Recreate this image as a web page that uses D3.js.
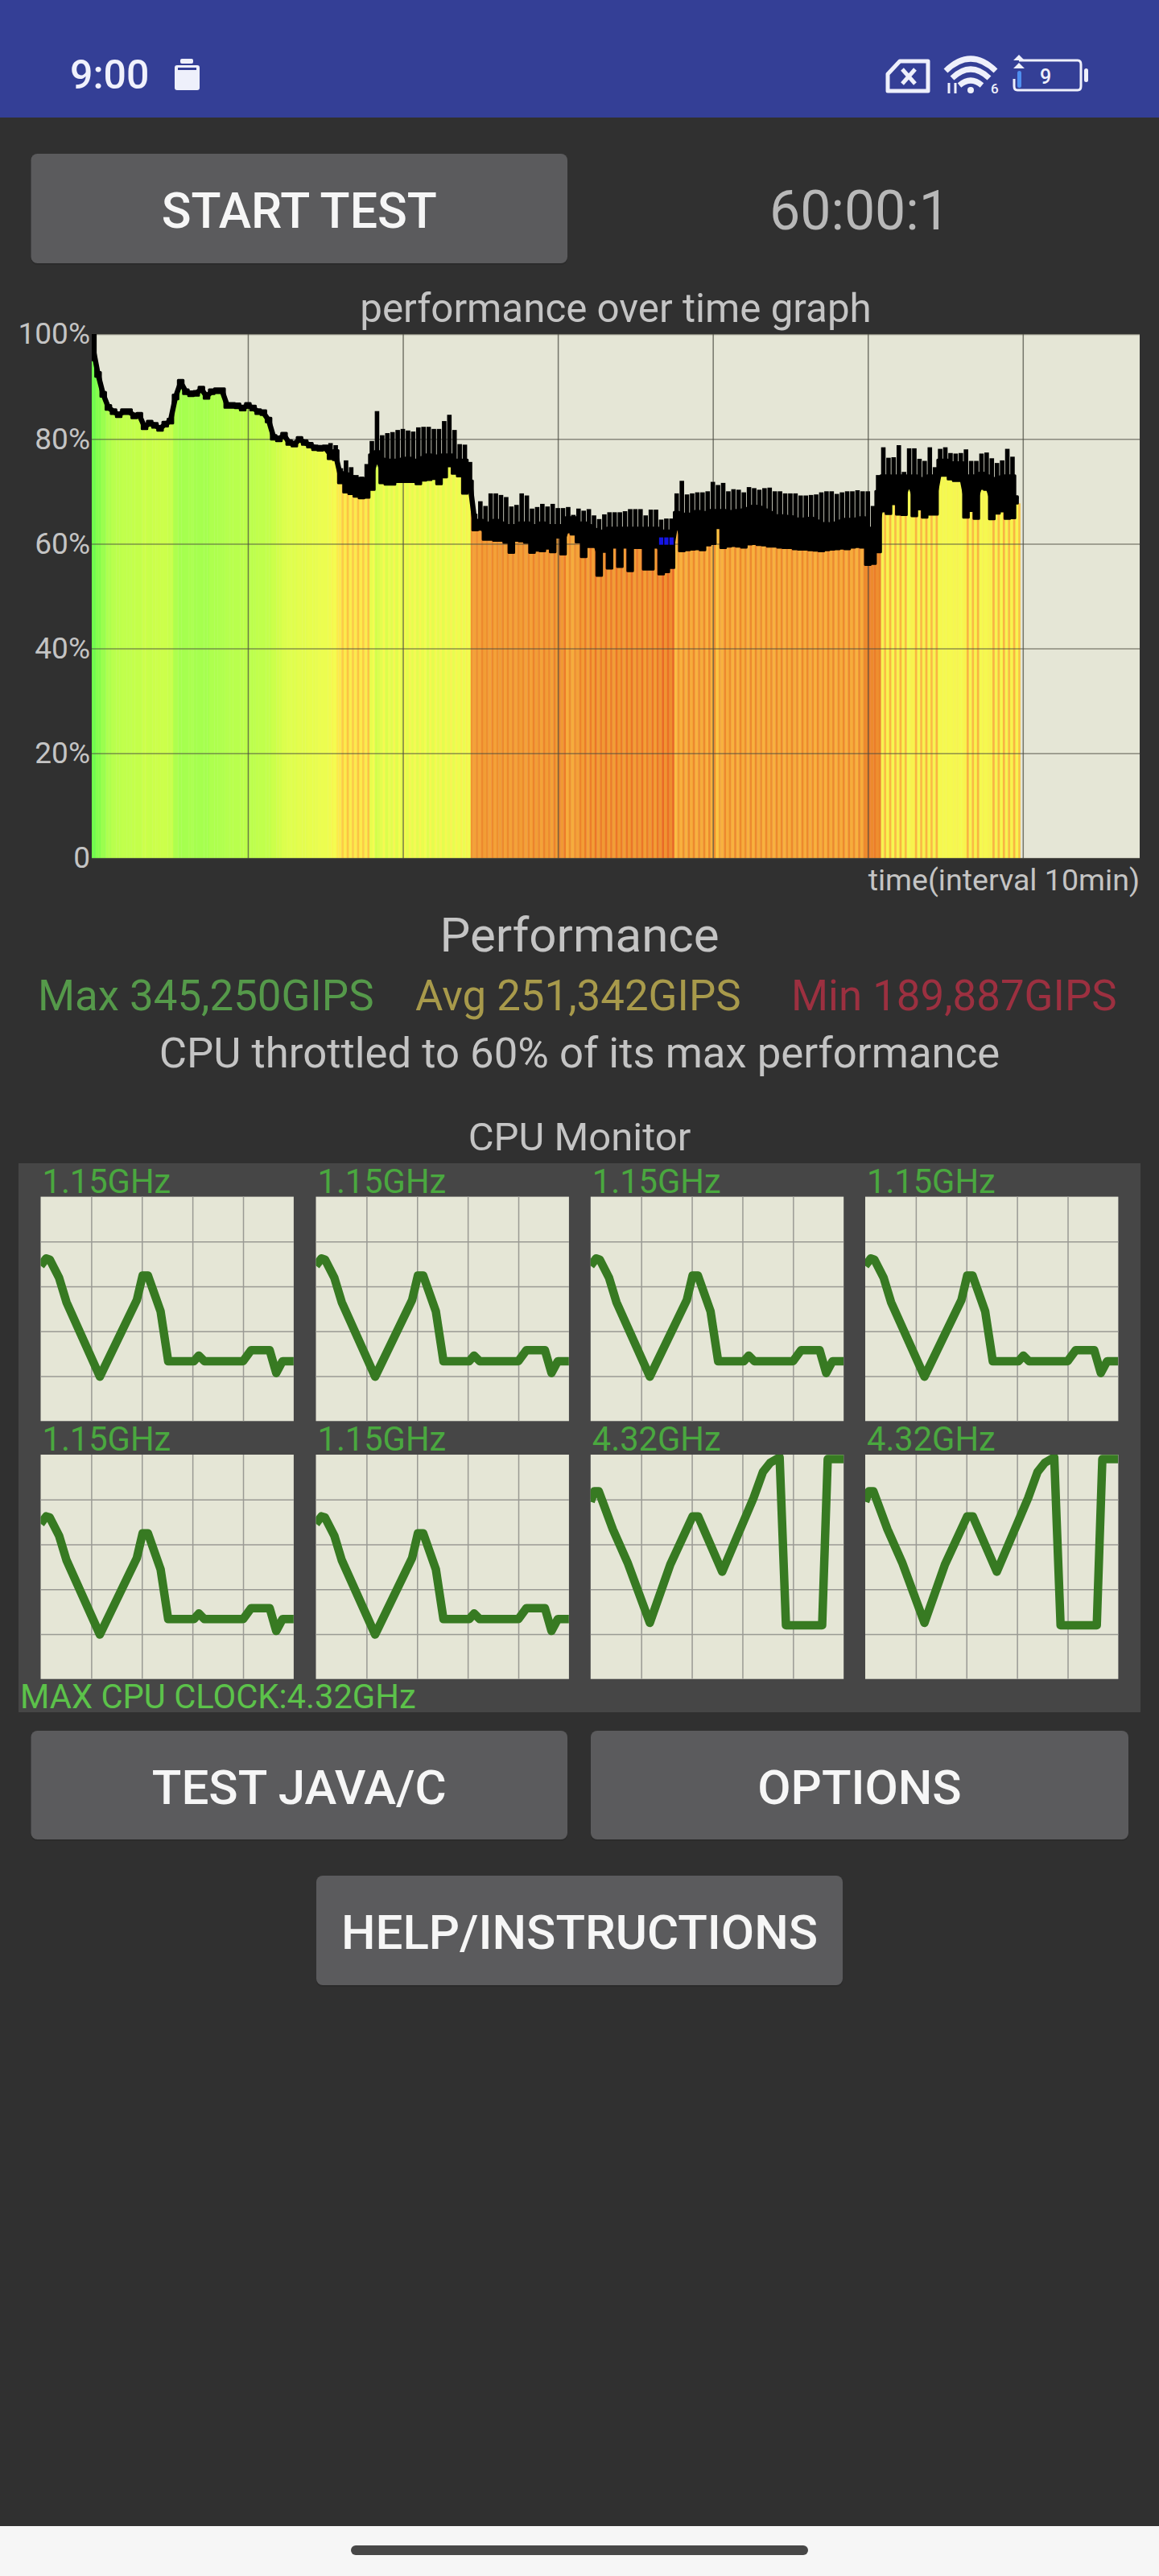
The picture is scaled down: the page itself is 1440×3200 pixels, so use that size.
<!DOCTYPE html>
<html>
<head>
<meta charset="utf-8">
<title>CPU Throttling Test</title>
<script src="https://cdnjs.cloudflare.com/ajax/libs/d3/7.8.5/d3.min.js"></script>
<style>
  html, body { margin: 0; padding: 0; background: #303030; }
  svg { display: block; font-family: Roboto, sans-serif; }
</style>
</head>
<body>
<svg id="screen" width="1440" height="3200"></svg>
<script>
// top of the spikes per sample, one sample = 20 s
const perfTop = [
  100,92.7,88.9,86.4,85.6,85,85.6,85.6,84.8,84.9,
  82.7,83.4,83,82.4,83.2,83.8,88.4,91.2,89.4,89,
  89.1,89.9,88.5,89.4,89.6,89.6,86.8,86.8,86.7,86.3,
  86.8,86.3,85.6,85.4,84,80.7,80.4,81.1,79.7,79.4,
  80.3,79.7,79.2,78.7,78.6,78.7,79.2,78.8,74.4,75.9,
  74.6,73.1,72.8,75.2,79.6,85.3,80.7,81.1,81.3,81.7,
  81.9,81.6,81.4,82.2,82.3,82.3,81.9,81.9,83.4,84.6,
  81.7,79,78.9,75.6,65.7,68.1,67.2,69.6,69.6,69.3,
  68.9,67.1,67.4,69.6,69.2,66.7,67,67.6,67.1,67.6,
  66.8,66.8,67,65.5,66.7,66.3,66.6,65.4,64.7,65.6,
  66,66,66,66.2,66.6,66.6,66.6,65.4,66.5,66.5,
  64.6,64.8,64.8,69.6,72,69.4,69.6,69.8,69.8,70,
  71.8,71.2,71.6,70,70.4,70.3,69.8,70.8,70.6,70.3,
  70.6,70.7,70,70,69.6,69.6,69.6,69.2,69.2,69.3,
  69.4,69.8,70,70,69.5,69.8,70,70,70.2,70,
  70,67.2,73.1,78.4,76.4,76.5,78.8,73.7,78.2,78.2,
  76.2,75.8,78.4,74.6,78.1,78.4,77.3,77.2,77.3,78,
  75.8,75.8,77.2,77.4,76.3,75.4,75.9,78.1,76.6,69
];

// where the solid band starts under the spikes
const perfBody = [
  100,92.7,88.9,86.4,85.6,85,85.6,85.6,84.8,84.9,
  82.7,83.4,83,82.4,83.2,83.8,88.4,91.2,89.4,89,
  89.1,89.9,88.5,89.4,89.6,89.6,86.8,86.8,86.7,86.3,
  86.8,86.3,85.6,85.4,84,80.7,80.4,81.1,79.7,79.4,
  80.3,79.7,79.2,78.7,78.6,78.7,77.7,77.8,73.6,73.4,
  72.9,72.5,72.2,72.5,77,77.6,76.2,76,76,76,
  76.2,76.4,76,76,76.5,77,76.8,76.8,77,77,
  76,76,76,72,64.5,64.5,63.6,64,64.5,64,
  63.5,63.5,63.5,64,64,63.5,63.5,64,63.5,63.5,
  63.5,63.5,65,65,64,64,63.5,62.8,62,62.5,
  63,63,63,63,63,63,63,62,63,63,
  62.5,62.5,62.5,66,63.9,65.7,65.7,66.2,66,66,
  66.4,66.4,66.4,66.2,66.2,66.4,66.5,66.8,67.2,67,
  66.5,66,65.4,65.4,65.3,65.2,64.8,64.4,64.8,64.9,
  64.4,63.9,63.9,63.6,64,64.4,64.7,64.7,64.8,65,
  63,62,70,73,73,72.7,73,73,72.5,73,
  72.5,72,73,72.8,76,76,75.5,75.5,75.5,72.5,
  73,73,73.5,73,72.5,72.5,72.8,73,73,69
];

// bottom of the black band, the coloured bars stop here
const perfLow = [
  95,91.9,88.1,85.6,84.8,84.2,84.8,84.8,84,84.1,
  81.9,82.6,82.2,81.6,82.4,83,87.6,90.4,88.6,88.2,
  88.3,89.1,87.7,88.6,88.8,88.8,86,86,85.9,85.5,
  86,85.5,84.8,84.6,83.2,79.9,79.6,80.3,78.9,78.6,
  79.5,78.9,78.4,77.9,77.8,77.9,76.2,76,71.6,69.8,
  69.5,69,68.7,68.8,70.3,75.9,71.6,71.3,71.3,71.8,
  71.8,71.8,71.8,71.4,72.1,72.2,72.4,71.4,72.7,74.8,
  73.4,72.9,69.6,70.8,62.6,62.7,60.8,60.8,60.6,60.6,
  60.2,58.3,60.6,60.5,60.2,58.3,58.7,58.6,59.1,58.4,
  61.2,58,62.2,61.8,60.3,57.5,59.4,59.4,53.9,58.5,
  55.3,59.3,55.6,59.3,54.8,59.2,59.2,55.1,55.1,59.3,
  54.2,54.6,55.4,64,58.6,58.8,58.9,59,58.8,59.7,
  60,63,59.2,59.5,59.6,59.5,59.3,59.9,60,59.8,
  59.7,59.5,59.5,59.3,59.2,59.2,59,58.9,58.9,58.8,
  58.7,58.6,58.8,58.9,59,59.1,59,59.3,59.4,59.3,
  56,56.2,58.4,66.2,65.7,67.6,65.6,65.5,71.3,65.3,
  66.6,65,65.6,65.6,73,73,72.3,72,72,65,
  66.3,64.8,70.5,70.3,64.7,65.8,66.2,64.8,64.9,67.7
];

// colour of each sample: wide stripe and thin stripe, 0 green .. 6 deep orange
const heatWide = [
  0,.4,.8,1.2,1.5,1.6,1.7,1.7,1.8,1.8,
  2,1.9,2,2,2,1.9,1.2,1,1,1.1,
  1,1,1,1.2,1.2,1.3,1.4,1.5,1.5,1.6,
  1.6,1.6,1.7,1.7,1.8,2,2.2,2.4,2.5,2.5,
  2.6,2.6,2.7,2.7,2.8,2.8,2.9,3,3.7,3.7,
  3.6,3.7,3.7,3.6,2.7,2.2,2.6,2.4,2.6,2.5,
  2.6,2.6,2.7,2.6,2.7,2.5,2.6,2.7,2.6,2.7,
  2.7,2.8,2.8,2.9,5,5,5.1,5,5,5.1,
  5,5,5,5.1,5,5,5.1,5,5.1,5,
  5.1,5.2,4.8,4.8,5,5.1,5,5.1,5.1,5.2,
  5.1,5.1,5.2,5.1,5.2,5.1,5.2,5.1,5.2,5.1,
  5.3,5.3,5.4,4.5,4.7,4.7,4.8,4.7,4.8,4.7,
  4.7,4.4,4.7,4.8,4.7,4.7,4.8,4.7,4.7,4.8,
  4.7,4.8,4.7,4.8,4.7,4.8,4.8,4.7,4.8,4.8,
  4.7,4.8,4.7,4.8,4.7,4.8,4.7,4.8,4.7,4.8,
  5.5,5.5,5.4,3.4,3.3,3.2,3.4,3.3,3,3.4,
  3.2,3.4,3.3,3.3,3.1,3.1,3.1,3.2,3.1,3.4,
  3.3,3.4,3.1,3.1,3.4,3.3,3.2,3.3,3.4,3.3
];

const heatThin = [
  0,.4,.8,1.2,1.5,1.6,1.7,1.7,1.8,1.8,
  2,1.9,2,2,2,1.9,1.2,1,1,1.1,
  1,1,1,1.2,1.2,1.3,1.4,1.5,1.5,1.6,
  1.6,1.6,1.7,1.7,1.8,2,2.2,2.4,2.5,2.5,
  2.6,2.6,2.7,2.7,2.8,2.8,3.2,3.6,4.3,4.4,
  4.3,4.4,4.3,4.4,3,2.4,3.1,2.8,3.2,3,
  3.1,3.2,3.1,3.2,3,3.2,3.1,3.2,3.1,3.3,
  3.2,3.3,3.3,5.3,5.4,5.5,5.4,5.5,5.4,5.5,
  5.5,5.5,5.4,5.5,5.5,5.6,5.5,5.6,5.5,5.6,
  5.6,5.7,5.4,5.4,5.6,5.7,5.7,5.8,5.7,5.8,
  5.7,5.8,5.7,5.8,5.8,5.7,5.8,5.7,5.8,5.8,
  6,5.9,6,5.2,5.4,5.5,5.5,5.4,5.5,5.5,
  5.4,5,5.5,5.4,5.5,5.5,5.4,5.5,5.5,5.4,
  5.5,5.4,5.5,5.5,5.4,5.5,5.4,5.5,5.5,5.4,
  5.5,5.4,5.5,5.5,5.4,5.5,5.5,5.4,5.5,5.5,
  5.7,5.7,5.6,4.5,4.6,4.5,4.6,4.5,3.4,4.6,
  4.5,4.6,4.5,4.6,3.2,3.2,3.2,3.3,3.2,4.6,
  4.5,4.6,3.3,3.3,4.6,4.5,4.6,4.5,4.6,4.4
];

// the few samples where the app marked the lowest reading in blue
const minMarkSamples = [110, 111, 112];
const minMarkRange = [59.8, 61.2];

const perfTicks = [0, 20, 40, 60, 80, 100];
const timeTicks = [10, 20, 30, 40, 50, 60];

const coreTimes = [0,2.2,3.6,7.3,10.2,23.4,38,40.3,42.4,47.4,50.4,60.6,62.5,64.7,80,83.2,90.5,93.1,95.6,100];
const littleCoreLoad = [69.2,72.5,72,63.8,53,19.8,53.9,64.9,64.9,48.9,26.7,26.7,29.2,26.7,26.7,31.6,31.6,21.4,26.7,26.7];

const bigCoreTimes = [0,1.5,3.2,8.8,14.6,23.4,31.5,40.3,42.5,52,64.4,68.1,71,74.7,77.2,91.5,93.7,100];
const bigCoreLoad = [79,83.7,83.7,66.7,51.9,25,51,72.5,72.5,47.8,80.7,92.3,96.4,98.8,23.9,23.9,98,98];

const coreClocks = ['1.15GHz','1.15GHz','1.15GHz','1.15GHz','1.15GHz','1.15GHz','4.32GHz','4.32GHz'];
const coreGridTicks = [20, 40, 60, 80];

const svg = d3.select('#screen');
const GREY = '#c4c4c4';
const PLOT_BG = '#e5e6d6';

function label(text, x, y, size, fill, anchor, weight) {
  return svg.append('text').attr('x', x).attr('y', y)
    .attr('font-size', size).attr('fill', fill)
    .attr('text-anchor', anchor || 'middle')
    .attr('font-weight', weight || 400)
    .text(text);
}

function button(text, x, y, w, h, size) {
  svg.append('rect').attr('x', x).attr('y', y + 2).attr('width', w).attr('height', h)
    .attr('rx', 8).attr('fill', '#262626').attr('opacity', .5);
  svg.append('rect').attr('x', x).attr('y', y).attr('width', w).attr('height', h)
    .attr('rx', 8).attr('fill', '#5b5b5d');
  label(text, x + w / 2, y + h / 2 + size * .355 + 2, size, '#f6f6f6', 'middle', 500);
}

// page and status bar
svg.append('rect').attr('width', 1440).attr('height', 3200).attr('fill', '#303030');
svg.append('rect').attr('width', 1440).attr('height', 146).attr('fill', '#343f96');
label('9:00', 87, 110, 50, '#f0f1fc', 'start', 500);

const icons = svg.append('g').attr('fill', '#eef0fb').attr('stroke', '#eef0fb');
// battery saver
icons.append('rect').attr('x', 217).attr('y', 81).attr('width', 31).attr('height', 31).attr('rx', 3).attr('stroke', 'none');
icons.append('rect').attr('x', 224).attr('y', 73).attr('width', 16).attr('height', 6).attr('rx', 2).attr('stroke', 'none');
icons.append('rect').attr('x', 221).attr('y', 84).attr('width', 23).attr('height', 3).attr('fill', '#343f96').attr('stroke', 'none');
// sim card with a cross
icons.append('path').attr('d', 'M1103 92 L1118 76 H1153 V113 H1103 Z M1121 86 L1137 104 M1137 86 L1121 104')
  .attr('fill', 'none').attr('stroke-width', 5).attr('stroke-linejoin', 'round');
// wifi
icons.append('path').attr('d', 'M1175 88 Q1206 58 1237 88 M1183 97 Q1206 75 1229 97 M1192 106 Q1206 94 1220 106')
  .attr('fill', 'none').attr('stroke-width', 7);
icons.append('circle').attr('cx', 1206).attr('cy', 112).attr('r', 4).attr('stroke', 'none');
icons.append('path').attr('d', 'M1179 103 V116 M1187 103 V116').attr('stroke-width', 3);
svg.append('text').attr('x', 1231).attr('y', 116).attr('font-size', 17).attr('fill', '#eef0fb').attr('font-weight', 500).text('6');
// battery
icons.append('path').attr('d', 'M1266 75 H1339 Q1343 75 1343 80 V107 Q1343 112 1339 112 H1264 Q1260 112 1260 107 V98')
  .attr('fill', 'none').attr('stroke-width', 3);
icons.append('rect').attr('x', 1347).attr('y', 85).attr('width', 5).attr('height', 17).attr('rx', 2.5).attr('stroke', 'none');
icons.append('path').attr('d', 'M1266 78 L1259 85 H1273 Z M1266 68 L1259 75 H1273 Z').attr('stroke', 'none');
svg.append('rect').attr('x', 1264).attr('y', 88).attr('width', 5).attr('height', 21).attr('rx', 2.5).attr('fill', '#4f8ff0');
label('9', 1299, 104, 25, '#eef0fb', 'middle', 500);

button('START TEST', 38.5, 191, 666.5, 136, 60.8);
label('60:00:1', 1068, 285, 68, '#b8b8b8');

// performance graph
label('performance over time graph', 765, 400, 49.3, GREY);

const plot = { left: 114, right: 1416, top: 415, bottom: 1066 };
const x = d3.scaleLinear().domain([0, 67.54]).range([115.4, plot.right]);
const y = d3.scaleLinear().domain([0, 100]).range([plot.bottom, plot.top]);

const samples = perfTop.map((top, i) => ({
  t: i / 3, top, body: perfBody[i], low: perfLow[i], wide: heatWide[i], thin: heatThin[i]
}));
const step = x(1 / 3) - x(0);

const heatColor = d3.scaleLinear()
  .domain([0, 1, 2, 3, 4, 4.6, 5.5, 6])
  .range(['#6ffb4a', '#a6ff4f', '#ccff4a', '#f4fc50', '#ffe24a', '#f9b640', '#ed8a2d', '#ea6a24']);

svg.append('clipPath').attr('id', 'plot-clip').append('rect')
  .attr('x', plot.left).attr('y', plot.top)
  .attr('width', plot.right - plot.left).attr('height', plot.bottom - plot.top);

svg.append('rect')
  .attr('x', plot.left).attr('y', plot.top)
  .attr('width', plot.right - plot.left).attr('height', plot.bottom - plot.top)
  .attr('fill', PLOT_BG);

const marks = svg.append('g').attr('clip-path', 'url(#plot-clip)');

marks.append('g').selectAll('rect').data(samples).join('rect')
  .attr('x', d => x(d.t) - step / 2)
  .attr('y', d => y(d.low))
  .attr('width', step * .62 + .3)
  .attr('height', d => y(0) - y(d.low))
  .attr('fill', d => heatColor(d.wide));

marks.append('g').selectAll('rect').data(samples).join('rect')
  .attr('x', d => x(d.t) - step / 2 + step * .62)
  .attr('y', d => y(d.low))
  .attr('width', step * .38 + .3)
  .attr('height', d => y(0) - y(d.low))
  .attr('fill', d => heatColor(d.thin));

// grid lines come from the axes, labels on the y axis only
const gridX = svg.append('g').attr('transform', `translate(0,${plot.bottom})`)
  .call(d3.axisBottom(x).tickValues(timeTicks).tickSize(-(plot.bottom - plot.top)).tickFormat(''));
gridX.select('.domain').remove();
gridX.selectAll('line').attr('stroke', '#4a4a40').attr('stroke-opacity', .72).attr('stroke-width', 1.5);

const gridY = svg.append('g').attr('transform', `translate(${plot.left},0)`)
  .call(d3.axisLeft(y).tickValues(perfTicks).tickSize(-(plot.right - plot.left)).tickPadding(2)
    .tickFormat(d => d === 0 ? '0' : d + '%'));
gridY.select('.domain').remove();
gridY.selectAll('line').attr('stroke', '#4a4a40').attr('stroke-opacity', .6).attr('stroke-width', 1.5);
gridY.selectAll('text').attr('font-family', 'Roboto, sans-serif').attr('font-size', 37).attr('fill', GREY);

const band = svg.append('g').attr('clip-path', 'url(#plot-clip)');

band.append('path').datum(samples)
  .attr('d', d3.area().x(d => x(d.t)).y0(d => y(d.low)).y1(d => y(d.body)).curve(d3.curveStep))
  .attr('fill', '#000').attr('stroke', '#000').attr('stroke-width', 3).attr('stroke-linejoin', 'round');

// a thick line through the band keeps the steep parts as heavy as the flat ones
band.append('path').datum(samples)
  .attr('d', d3.line().x(d => x(d.t)).y(d => y((d.body + d.low) / 2)))
  .attr('fill', 'none').attr('stroke', '#000').attr('stroke-width', 6.5).attr('stroke-linejoin', 'round');

band.append('g').selectAll('rect').data(samples.filter(d => d.top > d.body)).join('rect')
  .attr('x', d => x(d.t) - 2.8)
  .attr('y', d => y(d.top))
  .attr('width', 5.6)
  .attr('height', d => y(d.body) - y(d.top))
  .attr('fill', '#000');

band.append('g').selectAll('rect').data(minMarkSamples).join('rect')
  .attr('x', i => x(samples[i].t) - 2.6)
  .attr('y', y(minMarkRange[1]))
  .attr('width', 5.2)
  .attr('height', y(minMarkRange[0]) - y(minMarkRange[1]))
  .attr('fill', '#1414e6');

// texts under the graph
label('time(interval 10min)', 1416, 1106, 37.6, GREY, 'end');
label('Performance', 720, 1182, 60, GREY);
label('Max 345,250GIPS', 47, 1255, 52.8, '#55994a', 'start');
label('Avg 251,342GIPS', 516, 1255, 52.8, '#a89a4b', 'start');
label('Min 189,887GIPS', 983, 1255, 52.8, '#9c3040', 'start');
label('CPU throttled to 60% of its max performance', 720, 1326, 52.7, GREY);
label('CPU Monitor', 720, 1429, 49, GREY);

// cpu monitor panel
svg.append('rect').attr('x', 23).attr('y', 1445).attr('width', 1394).attr('height', 682).attr('fill', '#464646');

const coreCols = [50.5, 392.5, 733.8, 1075];
const coreRows = [1486.6, 1807];
const coreW = 314.4;
const coreH = 278.7;

coreClocks.forEach((clock, i) => {
  const left = coreCols[i % 4];
  const top = coreRows[Math.floor(i / 4)];
  const cx = d3.scaleLinear().domain([0, 100]).range([left, left + coreW]);
  const cy = d3.scaleLinear().domain([0, 100]).range([top + coreH, top]);
  const times = i < 6 ? coreTimes : bigCoreTimes;
  const load = i < 6 ? littleCoreLoad : bigCoreLoad;
  const clipId = 'core-clip-' + i;

  label(clock, left + 2, top - 5, 41.6, '#4aa83f', 'start');

  svg.append('rect').attr('x', left).attr('y', top).attr('width', coreW).attr('height', coreH).attr('fill', PLOT_BG);
  svg.append('clipPath').attr('id', clipId).append('rect')
    .attr('x', left).attr('y', top).attr('width', coreW).attr('height', coreH);

  const gx = svg.append('g').attr('transform', `translate(0,${top + coreH})`)
    .call(d3.axisBottom(cx).tickValues(coreGridTicks).tickSize(-coreH).tickFormat(''));
  const gy = svg.append('g').attr('transform', `translate(${left},0)`)
    .call(d3.axisLeft(cy).tickValues(coreGridTicks).tickSize(-coreW).tickFormat(''));
  [gx, gy].forEach(g => {
    g.select('.domain').remove();
    g.selectAll('line').attr('stroke', '#9a9a94').attr('stroke-width', 1.5);
  });

  svg.append('path').datum(load)
    .attr('clip-path', `url(#${clipId})`)
    .attr('d', d3.line().x((d, j) => cx(times[j])).y(d => cy(d)))
    .attr('fill', 'none').attr('stroke', '#377a22').attr('stroke-width', 10.5)
    .attr('stroke-linejoin', 'round');
});

label('MAX CPU CLOCK:4.32GHz', 25, 2122, 41.7, '#5cc24a', 'start');

button('TEST JAVA/C', 38.5, 2150, 666.5, 135, 60);
button('OPTIONS', 734, 2150, 668, 135, 60);
button('HELP/INSTRUCTIONS', 393, 2330, 654, 136, 60);

// navigation bar
svg.append('rect').attr('y', 3138).attr('width', 1440).attr('height', 62).attr('fill', '#f6f6f6');
svg.append('rect').attr('x', 436).attr('y', 3162).attr('width', 568).attr('height', 12).attr('rx', 6).attr('fill', '#474747');
</script>
</body>
</html>
